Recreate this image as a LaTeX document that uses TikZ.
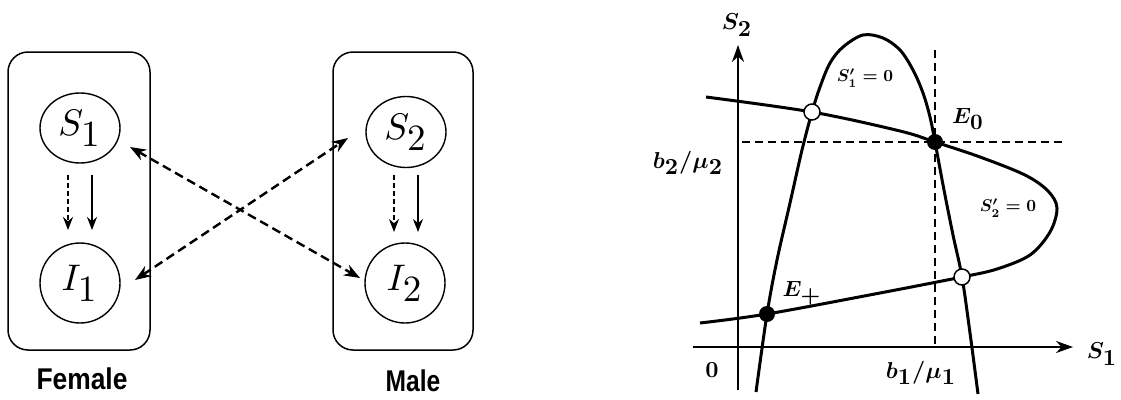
\documentclass[tikz,border=0pt]{standalone}
\usepackage{graphicx}
\usepackage[no-math]{fontspec}
\newfontfamily\grpfont{Liberation Sans}
\usetikzlibrary{arrows.meta,shapes.geometric}
\newcommand\scl[2]{\scalebox{#1}{#2}}
\begin{document}
\begin{tikzpicture}[x=1pt,y=-1pt,
  grp/.style={draw,line width=1.5pt,rounded corners=20pt},
  st/.style={draw,ellipse,line width=1.4pt,inner sep=0pt,minimum width=80pt},
  trs/.style={line width=1.8pt,-{Stealth[length=13pt,width=10pt]}},
  trd/.style={trs,dash pattern=on 5pt off 3pt},
  crs/.style={line width=2.4pt,dash pattern=on 9pt off 5pt,{Stealth[length=16pt,width=12pt]}-{Stealth[length=16pt,width=12pt]}},
  grlab/.style={font=\fontsize{30}{34}\selectfont\grpfont\bfseries},
  axis/.style={line width=2.3pt,-{Stealth[length=17pt,width=12pt]}},
  guide/.style={line width=1.8pt,dash pattern=on 8pt off 5pt},
  ncurve/.style={line width=3pt},
  fdot/.style={circle,fill=black,inner sep=0pt,minimum size=16pt},
  odot/.style={circle,draw=black,fill=white,line width=1.5pt,inner sep=0pt,minimum size=16pt}
]
\useasboundingbox (0,0) rectangle (1121,399);

% ---------- left: compartment diagram ----------
\draw[grp] (8,52) rectangle (150,350);
\draw[grp] (333,52) rectangle (473,350);

\node[st,minimum height=70pt] (S1) at (80,128) {\scl{3.7}{$S_{\textstyle 1}$}};
\node[st,minimum height=80pt] (I1) at (80,283) {\scl{3.7}{$I_{\textstyle 1}$}};
\node[st,minimum height=71pt] (S2) at (406,132) {\scl{3.7}{$S_{\textstyle 2}$}};
\node[st,minimum height=80pt] (I2) at (405,283) {\scl{3.7}{$I_{\textstyle 2}$}};

\draw[trd] ([shift={(-12,47)}]S1.center) -- ([shift={(-12,-53)}]I1.center);
\draw[trs] ([shift={(12,47)}]S1.center) -- ([shift={(12,-53)}]I1.center);
\draw[trd] ([shift={(-12,43)}]S2.center) -- ([shift={(-11,-51)}]I2.center);
\draw[trs] ([shift={(12,43)}]S2.center) -- ([shift={(13,-51)}]I2.center);

\draw[crs] ([shift={(50,19)}]S1.center) -- ([shift={(-45,-5)}]I2.center);
\draw[crs] ([shift={(55,-3)}]I1.center) -- ([shift={(-58,6)}]S2.center);

\node[grlab] (fem) at (82,379) {\scalebox{0.88}[1]{Female}};
\node[grlab] (mal) at (413,381) {\scalebox{0.82}[1]{Male}};

% ---------- right: phase plane ----------
\draw[axis] (738,390) -- (738,45);
\draw[axis] (693,347) -- (1073,347);

\draw[guide] (742,142) -- (1062,142);
\draw[guide] (935,50) -- (935,347);

% S1'=0 nullcline
\draw[ncurve] plot[smooth,tension=0.55] coordinates {
 (756,392) (767,314) (777,260) (790,203) (802,150) (812,112) (820,87)
 (830,63) (843,47) (863,35) (883,38) (900,50) (913,70) (923,93)
 (930,117) (935,142) (944,190) (953,235) (962,277) (970,333) (978,394)};
% S2'=0 nullcline
\draw[ncurve] plot[smooth,tension=0.55] coordinates {
 (706,97) (812,112) (900,131) (935,142) (980,157) (1025,175)
 (1048,191) (1057,208) (1050,232) (1030,255) (997,269) (962,277)
 (880,293) (767,314) (700,323)};

\node[fdot] (E0) at (935,142) {};
\node[fdot] (Ep) at (767,314) {};
\node[odot] (P1) at (812,112) {};
\node[odot] (P2) at (962,277) {};

\boldmath
\node (ls2) at (737,25) {\scl{2.3}{$S_{\textstyle 2}$}};
\node (ls1) at (1102,354) {\scl{2.3}{$S_{\textstyle 1}$}};
\node (l0) at (712,370) {\scl{2.3}{$0$}};
\node (lb1) at (921,373) {\scl{2.3}{$b_{\textstyle 1}/\mu_{\textstyle 1}$}};
\node (lb2) at (688,163) {\scl{2.3}{$b_{\textstyle 2}/\mu_{\textstyle 2}$}};
\node (lE0) at (968,119) {\scl{2.2}{$E_{\textstyle 0}$}};
\node (lEp) at (802,293) {\scl{2.2}{$E_{\textstyle +}$}};
\node (n1) at (865,78) {\scl{1.7}{$S_1'=0$}};
\node (n2) at (1008,208) {\scl{1.7}{$S_2'=0$}};
\end{tikzpicture}
\end{document}
